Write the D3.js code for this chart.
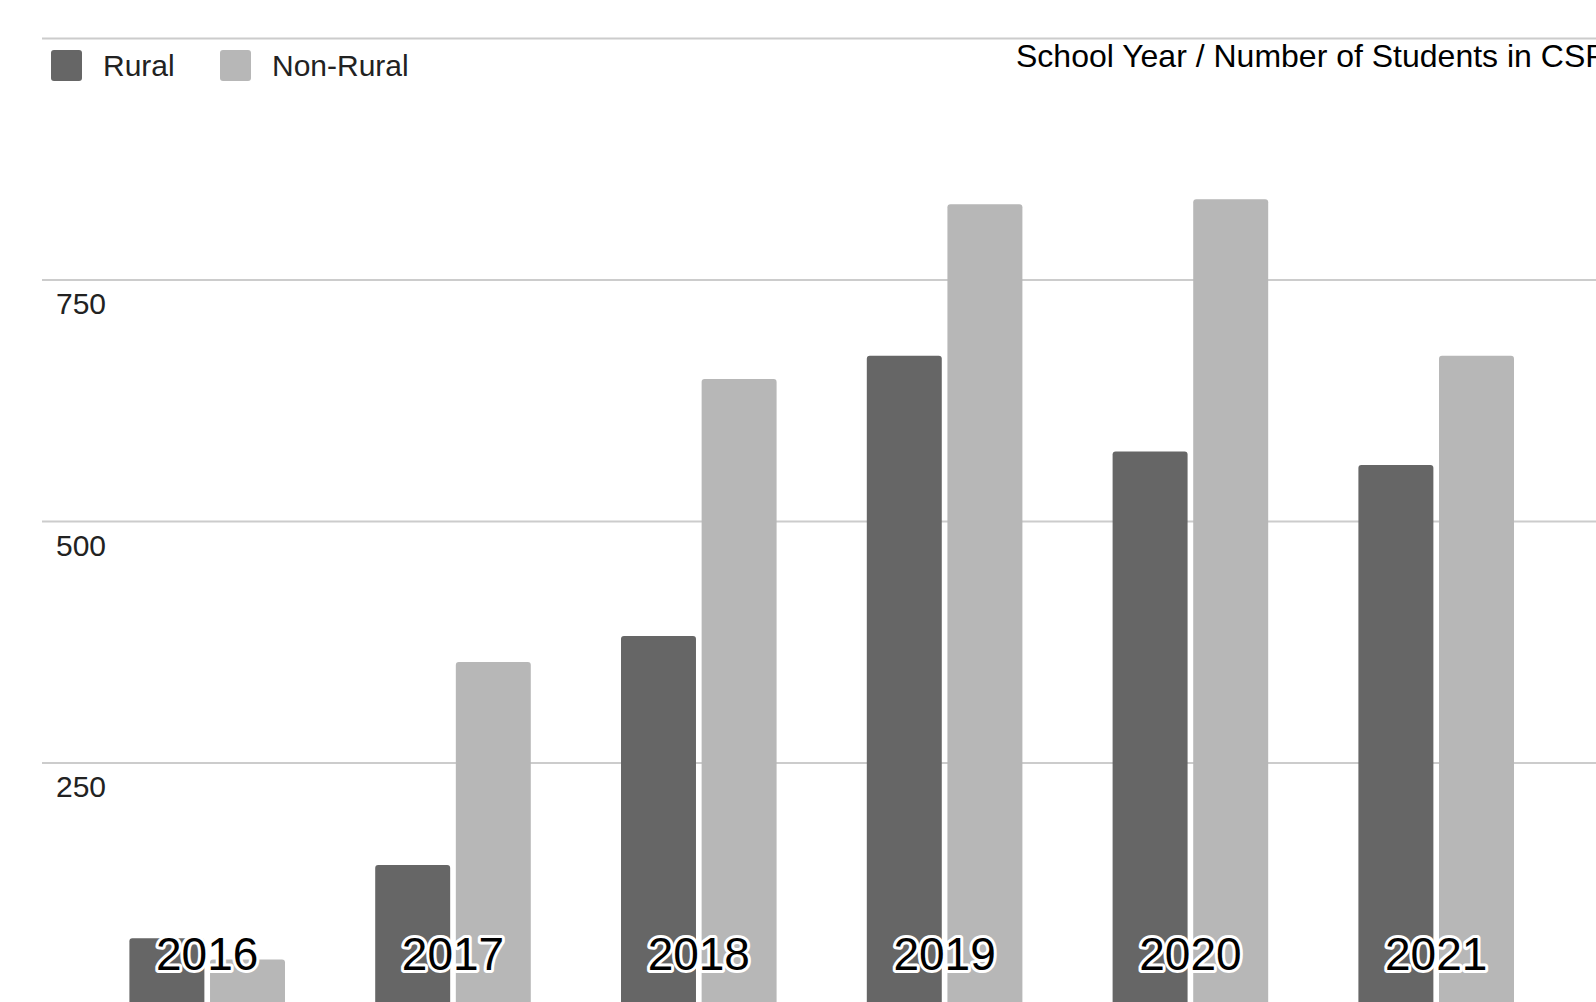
<!DOCTYPE html>
<html lang="en">
<head>
<meta charset="UTF-8">
<title>School Year / Number of Students in CSP</title>
<script src="https://cdn.jsdelivr.net/npm/d3@7"></script>
<style>
    body{
        margin: 0;
        overflow: hidden;
        background: #fff;
    }
    svg text{
        font-family: 'Liberation Sans', Arial, sans-serif;
    }
    .grid line{
        stroke: #cccccc;
        stroke-width: 2;
    }
    .grid text{
        font-size: 30px;
        fill: #222;
    }
</style>
</head>
<body>
<div id="container"></div>
<script>
    // data
    const years = ["2016", "2017", "2018", "2019", "2020", "2021"]
    const rural = [68, 144, 381, 671, 572, 558]
    const nonRural = [46, 354, 647, 828, 833, 671]
    const seriesNames = ["Rural", "Non-Rural"]
    const seriesColors = ["#666666", "#b7b7b7"]
    const yTicks = [250, 500, 750, 1000]

    const width = 1596
    const height = 1002

    const svg = d3.select("#container")
        .append("svg")
        .attr("width", width)
        .attr("height", height)

    // scales
    const y = d3.scaleLinear()
        .domain([0, 1000])
        .range([1004, 38])

    const x0 = d3.scaleBand()
        .domain(years)
        .range([84.3, 1559.1])
        .paddingInner(0.367)
        .paddingOuter(0.1835)

    const x1 = d3.scaleBand()
        .domain(seriesNames)
        .range([0, x0.bandwidth()])
        .paddingInner(0.07)

    // gridlines + y labels
    const gridLeft = 42
    const yAxis = d3.axisRight(y)
        .tickValues(yTicks)
        .tickSize(width - gridLeft)
        .tickFormat(d => d === 1000 ? "" : d)

    const grid = svg.append("g")
        .attr("class", "grid")
        .attr("transform", "translate(" + gridLeft + ",0)")
        .call(yAxis)
    grid.select(".domain").remove()
    grid.selectAll("text")
        .attr("x", 14)
        .attr("y", 34)
        .attr("dy", 0)
        .attr("text-anchor", "start")

    // bars
    const rows = years.map((yr, i) => ({year: yr, values: [rural[i], nonRural[i]]}))

    const groups = svg.append("g")
        .selectAll("g")
        .data(rows)
        .enter()
        .append("g")
        .attr("transform", d => "translate(" + x0(d.year) + ",0)")

    groups.selectAll("rect")
        .data(d => d.values.map((v, k) => ({name: seriesNames[k], value: v, k: k})))
        .enter()
        .append("rect")
        .attr("x", d => x1(d.name))
        .attr("y", d => y(d.value))
        .attr("width", x1.bandwidth())
        .attr("height", d => y(0) - y(d.value) + 10)
        .attr("rx", 3)
        .attr("fill", d => seriesColors[d.k])

    // year labels, drawn over the bars with a white halo
    svg.append("g")
        .selectAll("text")
        .data(years)
        .enter()
        .append("text")
        .attr("x", d => x0(d) + x0.bandwidth() / 2)
        .attr("y", 970)
        .attr("text-anchor", "middle")
        .attr("font-size", "46px")
        .attr("fill", "#000")
        .attr("stroke", "#fff")
        .attr("stroke-width", 6)
        .attr("stroke-linejoin", "round")
        .attr("paint-order", "stroke")
        .text(d => d)

    // legend
    const legendX = [51, 220]
    const legend = svg.append("g")
        .selectAll("g")
        .data(seriesNames)
        .enter()
        .append("g")
        .attr("transform", (d, i) => "translate(" + legendX[i] + ",50)")
    legend.append("rect")
        .attr("width", 31)
        .attr("height", 31)
        .attr("rx", 3)
        .attr("fill", (d, i) => seriesColors[i])
    legend.append("text")
        .attr("x", 52)
        .attr("y", 26)
        .attr("font-size", "30px")
        .attr("fill", "#222")
        .text(d => d)

    // title (runs off the right edge, as in the source chart)
    svg.append("text")
        .attr("x", 1016)
        .attr("y", 67)
        .attr("font-size", "32px")
        .attr("fill", "#000")
        .text("School Year / Number of Students in CSP")
</script>
</body>
</html>
